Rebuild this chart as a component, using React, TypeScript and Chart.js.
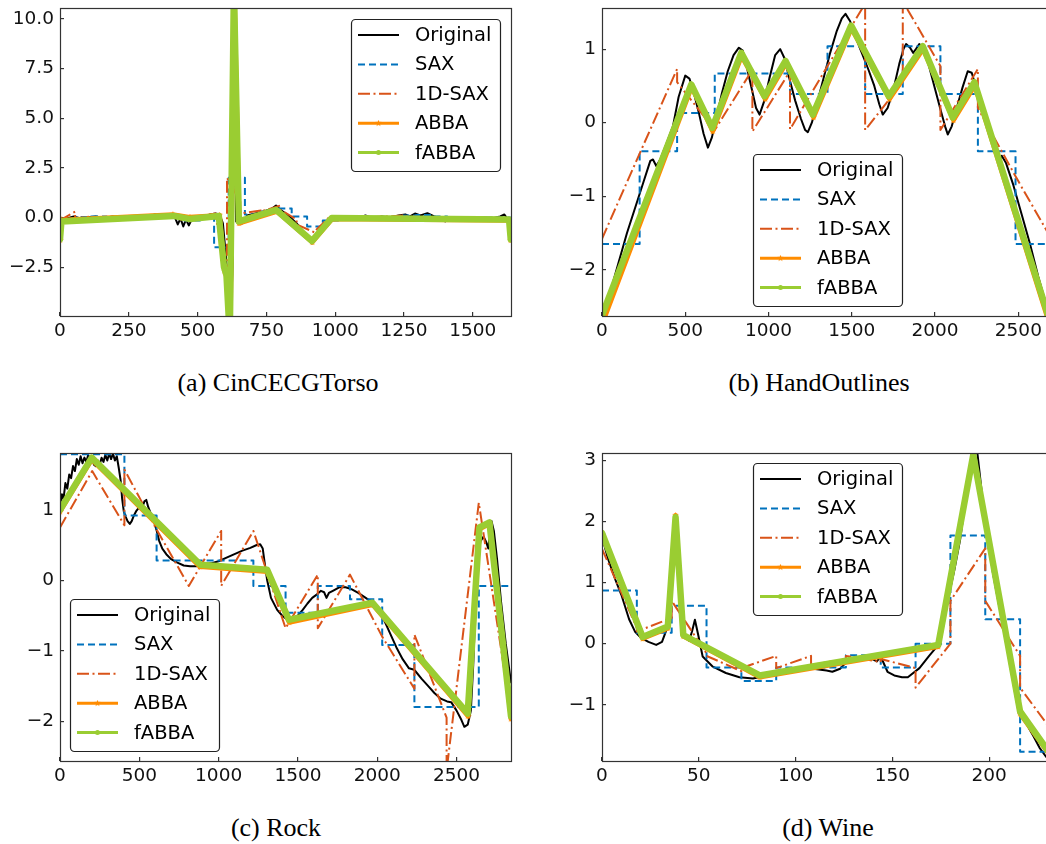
import React, { useEffect, useRef } from "react";
import { Chart, registerables } from "chart.js";

Chart.register(...registerables);

type Pt = [number, number];

// ---------- (a) CinCECGTorso ----------
const torsoXTicks = [0, 250, 500, 750, 1000, 1250, 1500];
const torsoYTicks = [-2.5, 0, 2.5, 5, 7.5, 10];
const torsoYLabels = ["\u22122.5", "0.0", "2.5", "5.0", "7.5", "10.0"];

const torsoOriginal: Pt[] = [
  [0, -0.15], [25, -0.05], [50, 0.05], [75, -0.05], [100, 0.0], [130, 0.05], [160, -0.02], [190, 0.05],
  [220, 0.0], [250, 0.08], [280, 0.02], [300, 0.12], [320, 0.05], [345, 0.15], [370, 0.1], [395, 0.18],
  [415, 0.1], [428, -0.35], [438, -0.05], [448, -0.45], [458, -0.1], [468, -0.4], [480, -0.05], [500, 0.0],
  [525, 0.05], [545, 0.15], [565, 0.2], [580, 0.15], [592, -0.3], [602, -1.8], [612, -3.6], [622, -4.6],
  [628, -2.0], [634, 11.0], [640, -0.2], [652, -0.25], [662, -0.3], [680, 0.1], [710, 0.2], [740, 0.3],
  [770, 0.45], [785, 0.6], [800, 0.4], [830, 0.1], [860, -0.3], [890, -0.8], [915, -1.3], [935, -1.0],
  [955, -0.6], [975, -0.2], [995, 0.0], [1030, -0.05], [1060, 0.05], [1090, 0.0], [1110, 0.1], [1140, -0.05],
  [1170, 0.05], [1200, 0.0], [1230, 0.1], [1255, 0.15], [1270, 0.05], [1290, 0.2], [1310, 0.1], [1335, 0.22],
  [1360, 0.05], [1385, -0.05], [1400, -0.2], [1420, -0.05], [1450, -0.15], [1480, 0.0], [1510, -0.05],
  [1540, 0.0], [1570, -0.05], [1600, 0.05], [1615, 0.15], [1625, -0.05], [1638, -0.1],
];
const torsoSax: Pt[] = [
  [0, -0.05], [57, 0.02], [113, 0.05], [170, 0.03], [226, 0.06], [283, 0.08], [339, 0.1], [396, 0.08],
  [452, -0.15], [509, 0.05], [560, -1.5], [613, 2.0], [672, 0.15], [729, 0.3], [785, 0.45],
  [842, 0.05], [898, -0.45], [955, -0.15], [1011, 0.0], [1068, 0.0], [1124, 0.03], [1181, 0.0], [1237, 0.1],
  [1294, 0.12], [1350, 0.05], [1407, -0.05], [1463, -0.05], [1520, 0.0], [1576, 0.0], [1638, 0.0],
];
const torsoOneDSax: Pt[] = [
  [0, -0.15], [55, 0.3], [55, -0.05], [110, 0.05], [110, 0.0], [220, 0.05], [220, 0.02], [330, 0.12],
  [330, 0.1], [440, 0.12], [440, -0.15], [500, 0.0], [500, 0.05], [565, 0.2], [565, 0.1], [607, -2.8],
  [607, 2.0], [655, 0.8], [655, 0.2], [730, 0.35], [730, 0.3], [800, 0.6], [800, 0.4], [860, -0.1],
  [860, -0.35], [925, -0.75], [925, -0.7], [985, 0.1], [985, 0.0], [1100, 0.05], [1100, 0.0], [1250, 0.1],
  [1250, 0.05], [1400, 0.0], [1400, -0.05], [1638, -0.05],
];
const torsoAbba: Pt[] = [
  [0, -1.15], [6, -0.12], [410, 0.15], [472, 0.02], [580, 0.12], [598, -2.7], [607, -3.1], [619, -6.0],
  [634, 11.5], [651, -0.3], [788, 0.3], [917, -1.25], [990, -0.07], [1633, -0.15], [1638, -1.15],
];
const torsoFabba: Pt[] = [
  [0, -1.1], [5, -0.2], [413, 0.08], [473, -0.08], [577, 0.08], [596, -2.5], [605, -2.9], [617, -6.0],
  [632, 11.5], [650, -0.2], [786, 0.38], [916, -1.18], [988, -0.02], [1632, -0.1], [1638, -1.1],
];

// ---------- (b) HandOutlines ----------
const handXTicks = [0, 500, 1000, 1500, 2000, 2500];
const handYTicks = [-2, -1, 0, 1];
const handYLabels = ["\u22122", "\u22121", "0", "1"];

const handOriginal: Pt[] = [
  [0, -2.62], [50, -2.3], [100, -1.9], [150, -1.5], [200, -1.15], [250, -0.8], [290, -0.52], [306, -0.5],
  [326, -0.59], [350, -0.5], [385, -0.3], [426, -0.05], [460, 0.35], [500, 0.64], [525, 0.6], [550, 0.42],
  [580, 0.15], [610, -0.15], [636, -0.34], [660, -0.2], [690, 0.1], [720, 0.4], [755, 0.7], [790, 0.92],
  [822, 1.02], [845, 0.98], [870, 0.75], [900, 0.45], [925, 0.2], [946, 0.11], [975, 0.3], [1005, 0.6],
  [1040, 0.92], [1070, 1.0], [1095, 0.88], [1125, 0.6], [1160, 0.3], [1195, 0.05], [1220, -0.1], [1236, -0.13],
  [1260, 0.0], [1290, 0.25], [1330, 0.6], [1370, 0.95], [1410, 1.25], [1440, 1.42], [1462, 1.48], [1490, 1.38],
  [1525, 1.15], [1560, 0.95], [1600, 0.72], [1635, 0.5], [1665, 0.25], [1686, 0.11], [1715, 0.2], [1750, 0.45],
  [1785, 0.8], [1810, 1.0], [1826, 1.07], [1850, 1.02], [1868, 0.95], [1885, 1.0], [1905, 1.07], [1930, 1.02],
  [1960, 0.8], [1995, 0.5], [2030, 0.2], [2060, -0.05], [2076, -0.16], [2100, -0.05], [2130, 0.2], [2165, 0.48],
  [2196, 0.7], [2220, 0.68], [2250, 0.45], [2290, 0.1], [2330, -0.2], [2366, -0.43], [2385, -0.52], [2400, -0.45],
  [2426, -0.55], [2470, -0.85], [2520, -1.25], [2570, -1.65], [2620, -2.1], [2670, -2.5], [2708, -2.8],
];
const handSax: Pt[] = [
  [0, -1.65], [226, -0.39], [451, 0.13], [677, 0.67], [1129, 0.39], [1354, 1.04], [1580, 0.39],
  [1806, 1.04], [2032, 0.39], [2257, -0.39], [2483, -1.65], [2708, -1.65],
];
const handOneDSax: Pt[] = [
  [0, -1.58], [226, -0.42], [451, 0.73], [451, 0.55], [677, -0.1], [903, 0.72], [903, -0.12], [1129, 0.7],
  [1129, -0.09], [1354, 0.77], [1580, 1.62], [1580, -0.1], [1806, 0.55], [1806, 1.65], [2032, 0.77],
  [2032, -0.1], [2257, 0.73], [2257, 0.2], [2483, -0.73], [2708, -1.62],
];
const handAbba: Pt[] = [
  [0, -2.75], [538, 0.48], [665, -0.12], [838, 0.9], [980, 0.32], [1104, 0.8], [1270, 0.07], [1498, 1.28],
  [1726, 0.32], [1928, 1.0], [2110, 0.03], [2238, 0.5], [2708, -2.9],
];
const handFabba: Pt[] = [
  [0, -2.62], [536, 0.52], [662, -0.07], [836, 0.95], [976, 0.36], [1102, 0.84], [1266, 0.11], [1496, 1.32],
  [1722, 0.36], [1926, 1.04], [2106, 0.07], [2236, 0.55], [2708, -2.83],
];

// ---------- (c) Rock ----------
const rockXTicks = [0, 500, 1000, 1500, 2000, 2500];
const rockYTicks = [-2, -1, 0, 1];
const rockYLabels = ["\u22122", "\u22121", "0", "1"];

const rockOriginal: Pt[] = [
  [0, 1.05], [12, 1.22], [22, 1.15], [34, 1.38], [46, 1.3], [58, 1.5], [70, 1.45], [82, 1.62], [94, 1.55],
  [106, 1.72], [118, 1.64], [130, 1.76], [142, 1.66], [154, 1.74], [166, 1.68], [178, 1.78], [190, 1.7],
  [202, 1.76], [214, 1.64], [226, 1.62], [238, 1.7], [250, 1.64], [262, 1.74], [274, 1.68], [286, 1.78],
  [298, 1.7], [310, 1.8], [322, 1.72], [334, 1.8], [346, 1.7], [358, 1.76], [370, 1.6], [382, 1.42],
  [392, 1.15], [402, 0.98], [414, 0.9], [426, 0.84], [440, 0.8], [452, 0.84], [466, 0.92], [480, 0.98],
  [494, 1.02], [508, 1.08], [520, 1.04], [532, 1.12], [544, 1.14], [556, 1.04], [570, 0.96], [590, 0.85],
  [610, 0.7], [625, 0.56], [645, 0.45], [670, 0.37], [700, 0.3], [740, 0.25], [780, 0.21], [820, 0.2],
  [860, 0.2], [900, 0.22], [950, 0.24], [1000, 0.27], [1050, 0.32], [1100, 0.37], [1150, 0.42], [1200, 0.46],
  [1240, 0.5], [1262, 0.51], [1278, 0.45], [1290, 0.25], [1306, 0.0], [1330, -0.25], [1369, -0.42],
  [1400, -0.5], [1433, -0.56], [1470, -0.54], [1500, -0.5], [1530, -0.42], [1560, -0.33], [1590, -0.25],
  [1620, -0.2], [1645, -0.15], [1665, -0.17], [1680, -0.25], [1695, -0.18], [1720, -0.15], [1760, -0.1],
  [1800, -0.1], [1840, -0.13], [1880, -0.18], [1920, -0.24], [1960, -0.3], [2000, -0.4], [2040, -0.55],
  [2080, -0.75], [2120, -0.95], [2160, -1.12], [2200, -1.25], [2233, -1.27], [2280, -1.4], [2320, -1.5],
  [2360, -1.6], [2400, -1.68], [2440, -1.72], [2466, -1.73], [2500, -1.85], [2530, -1.98], [2549, -2.08],
  [2570, -2.05], [2590, -1.85], [2605, -1.2], [2620, -0.3], [2635, 0.3], [2650, 0.55], [2670, 0.62],
  [2685, 0.55], [2700, 0.45], [2710, 0.7], [2720, 0.84], [2735, 0.7], [2755, 0.3], [2780, -0.3],
  [2810, -0.9], [2843, -1.45],
];
const rockSax: Pt[] = [
  [0, 1.79], [406, 0.92], [609, 0.28], [1219, -0.08], [1422, -0.46], [1625, -0.08], [1828, -0.27],
  [2031, -0.92], [2234, -1.8], [2640, -0.08], [2843, -0.08],
];
const rockOneDSax: Pt[] = [
  [0, 0.75], [203, 1.55], [406, 0.78], [406, 1.57], [609, 0.72], [812, -0.08], [1016, 0.7], [1016, -0.08],
  [1219, 0.7], [1422, -0.68], [1625, 0.08], [1625, -0.68], [1828, 0.08], [2031, -0.8], [2234, -1.54],
  [2234, -0.77], [2437, -1.95], [2437, -2.7], [2640, 1.1], [2843, -1.9],
];
const rockAbba: Pt[] = [
  [0, 0.97], [200, 1.71], [882, 0.19], [1305, 0.12], [1445, -0.6], [1972, -0.35], [2572, -1.93],
  [2642, 0.72], [2709, 0.8], [2843, -1.97],
];
const rockFabba: Pt[] = [
  [0, 1.0], [200, 1.74], [885, 0.22], [1306, 0.15], [1443, -0.56], [1970, -0.32], [2570, -1.89],
  [2644, 0.75], [2707, 0.82], [2843, -1.93],
];

// ---------- (d) Wine ----------
const wineXTicks = [0, 50, 100, 150, 200];
const wineYTicks = [-1, 0, 1, 2, 3];
const wineYLabels = ["\u22121", "0", "1", "2", "3"];

const wineOriginal: Pt[] = [
  [0, 1.75], [3, 1.4], [7, 1.04], [10, 0.8], [14, 0.4], [17, 0.2], [20, 0.1], [24, 0.03], [28, -0.02],
  [31, 0.03], [33, 0.2], [35, 0.7], [36.5, 1.5], [38, 2.05], [39.5, 1.5], [41, 0.6], [43, 0.1], [45, 0.05],
  [46.5, 0.2], [48, 0.39], [50, 0.1], [52, -0.21], [57, -0.37], [64, -0.48], [71, -0.55], [78, -0.57],
  [85, -0.52], [92, -0.44], [100, -0.41], [109, -0.41], [116, -0.44], [119, -0.46], [123, -0.41],
  [128, -0.24], [137, -0.21], [142, -0.29], [144, -0.21], [147.5, -0.46], [151, -0.52], [155, -0.55],
  [158, -0.55], [164, -0.4], [169, -0.2], [173, -0.05], [178, 0.61], [182, 1.2], [185, 1.7], [188, 2.4],
  [190, 2.9], [192, 3.2], [194, 3.1], [197, 2.25], [200, 1.6], [202, 1.15], [205, 0.65], [209, 0.06],
  [213, -0.55], [216, -1.03], [220, -1.35], [223, -1.52], [226, -1.7], [229.4, -1.85], [233, -1.9],
];
const wineSax: Pt[] = [
  [0, 0.87], [18, 0.18], [36, 0.62], [54, -0.39], [72, -0.61], [90, -0.39], [108, -0.39], [126, -0.19],
  [144, -0.39], [162, 0.0], [180, 1.77], [198, 0.4], [216, -1.77], [233, -1.77],
];
const wineOneDSax: Pt[] = [
  [0, 1.55], [18, 0.26], [18, 0.2], [36, 0.42], [36, 0.7], [54, -0.16], [54, -0.2], [72, -0.45],
  [72, -0.4], [90, -0.2], [90, -0.4], [108, -0.2], [108, -0.35], [126, -0.25], [126, -0.2], [144, -0.3],
  [144, -0.25], [162, -0.4], [162, -0.72], [180, 0.0], [180, 0.7], [198, 1.56], [198, 0.7], [216, -0.2],
  [216, -0.72], [233, -1.45],
];
const wineAbba: Pt[] = [
  [0, 1.78], [21, 0.08], [34, 0.25], [38, 2.1], [42, 0.12], [81.5, -0.55], [173.7, -0.05], [191.8, 3.1],
  [216, -1.15], [233, -1.9],
];
const wineFabba: Pt[] = [
  [0, 1.81], [21, 0.11], [34, 0.28], [38, 2.07], [42, 0.14], [81.5, -0.52], [173.7, -0.02], [191.8, 3.09],
  [216, -1.11], [233, -1.87],
];

// ---------- styles ----------
type Key = "original" | "sax" | "oneD" | "abba" | "fabba";
const SERIES_KEYS: Key[] = ["original", "sax", "oneD", "abba", "fabba"];

interface SeriesStyle {
  label: string;
  color: string;
  width: number;
  legendWidth: number;
  dash: number[];
  stepped?: boolean;
  marker?: "star" | "dot";
  order: number;
}

const STYLES: Record<Key, SeriesStyle> = {
  original: { label: "Original", color: "#000000", width: 2, legendWidth: 2, dash: [], order: 5 },
  sax: { label: "SAX", color: "#0072BD", width: 2, legendWidth: 2, dash: [7, 4], stepped: true, order: 4 },
  oneD: { label: "1D-SAX", color: "#D95319", width: 2, legendWidth: 2, dash: [12, 3.5, 2, 3.5], order: 3 },
  abba: { label: "ABBA", color: "#FF8C00", width: 4.5, legendWidth: 3, dash: [], marker: "star", order: 2 },
  fabba: { label: "fABBA", color: "#9ACD32", width: 6.5, legendWidth: 3, dash: [], marker: "dot", order: 1 },
};

const FONT = "'DejaVu Sans', 'Noto Sans', sans-serif";
const FRAME = "#333333";
const CW = 520;
const CH = 345;

interface PanelSpec {
  id: string;
  series: Record<Key, Pt[]>;
  xMax: number;
  yMin: number;
  yMax: number;
  xTicks: number[];
  yTicks: number[];
  yLabels: string[];
  left: number;
  top: number;
  legendX: number;
  legendY: number;
  caption: string;
  captionX: number;
  captionY: number;
}

const PANELS: PanelSpec[] = [
  {
    id: "a",
    series: { original: torsoOriginal, sax: torsoSax, oneD: torsoOneDSax, abba: torsoAbba, fabba: torsoFabba },
    xMax: 1639, yMin: -4.96, yMax: 10.55,
    xTicks: torsoXTicks, yTicks: torsoYTicks, yLabels: torsoYLabels,
    left: 0, top: 0, legendX: 351, legendY: 19,
    caption: "(a) CinCECGTorso", captionX: 278, captionY: 392,
  },
  {
    id: "b",
    series: { original: handOriginal, sax: handSax, oneD: handOneDSax, abba: handAbba, fabba: handFabba },
    xMax: 2708, yMin: -2.63, yMax: 1.56,
    xTicks: handXTicks, yTicks: handYTicks, yLabels: handYLabels,
    left: 542, top: 0, legendX: 211, legendY: 154,
    caption: "(b) HandOutlines", captionX: 819, captionY: 392,
  },
  {
    id: "c",
    series: { original: rockOriginal, sax: rockSax, oneD: rockOneDSax, abba: rockAbba, fabba: rockFabba },
    xMax: 2843, yMin: -2.565, yMax: 1.806,
    xTicks: rockXTicks, yTicks: rockYTicks, yLabels: rockYLabels,
    left: 0, top: 445, legendX: 70, legendY: 154,
    caption: "(c) Rock", captionX: 276, captionY: 837,
  },
  {
    id: "d",
    series: { original: wineOriginal, sax: wineSax, oneD: wineOneDSax, abba: wineAbba, fabba: wineFabba },
    xMax: 233, yMin: -1.92, yMax: 3.12,
    xTicks: wineXTicks, yTicks: wineYTicks, yLabels: wineYLabels,
    left: 542, top: 445, legendX: 211, legendY: 18,
    caption: "(d) Wine", captionX: 828, captionY: 837,
  },
];

// five-pointed star used as the ABBA marker
function makeStar(size: number, color: string): HTMLCanvasElement {
  const c = document.createElement("canvas");
  c.width = size;
  c.height = size;
  const g = c.getContext("2d")!;
  const cx = size / 2;
  const cy = size / 2;
  const R = size / 2;
  const r = R * 0.42;
  g.beginPath();
  for (let i = 0; i < 10; i++) {
    const ang = -Math.PI / 2 + (i * Math.PI) / 5;
    const rad = i % 2 === 0 ? R : r;
    g.lineTo(cx + rad * Math.cos(ang), cy + rad * Math.sin(ang));
  }
  g.closePath();
  g.fillStyle = color;
  g.fill();
  return c;
}

function Panel({ spec }: { spec: PanelSpec }) {
  const ref = useRef<HTMLCanvasElement>(null);

  useEffect(() => {
    const canvas = ref.current;
    if (!canvas) return;
    const star = makeStar(7, STYLES.abba.color);

    const datasets = SERIES_KEYS.map((key) => {
      const st = STYLES[key];
      return {
        label: st.label,
        data: spec.series[key].map(([x, y]) => ({ x, y })),
        borderColor: st.color,
        backgroundColor: st.color,
        borderWidth: st.width,
        borderDash: st.dash,
        borderJoinStyle: "round" as const,
        borderCapStyle: st.dash.length ? ("butt" as const) : ("round" as const),
        stepped: st.stepped ? ("before" as const) : false,
        pointRadius: st.marker === "star" ? 3.5 : st.marker === "dot" ? 2.5 : 0,
        pointStyle: st.marker === "star" ? (star as any) : "circle",
        pointBorderWidth: 0,
        tension: 0,
        fill: false,
        order: st.order,
      };
    });

    const framePlugin = {
      id: "frame",
      afterDatasetsDraw(chart: any) {
        const { ctx, chartArea: a } = chart;
        ctx.save();
        ctx.strokeStyle = FRAME;
        ctx.lineWidth = 1.2;
        ctx.strokeRect(Math.round(a.left) + 0.5, Math.round(a.top) + 0.5, Math.round(a.width), Math.round(a.height));
        ctx.restore();
      },
    };

    const legendPlugin = {
      id: "boxLegend",
      afterDraw(chart: any) {
        const ctx: CanvasRenderingContext2D = chart.ctx;
        const bx = spec.legendX + 0.5;
        const by = spec.legendY + 0.5;
        ctx.save();
        ctx.beginPath();
        ctx.roundRect(bx, by, 149, 152, 4);
        ctx.fillStyle = "#ffffff";
        ctx.fill();
        ctx.strokeStyle = "#222222";
        ctx.lineWidth = 1.2;
        ctx.stroke();
        SERIES_KEYS.forEach((key, i) => {
          const st = STYLES[key];
          const yy = spec.legendY + 16 + i * 29.4;
          const x0 = spec.legendX + 7;
          const x1 = x0 + 41;
          ctx.beginPath();
          ctx.setLineDash(st.dash);
          ctx.lineWidth = st.legendWidth;
          ctx.strokeStyle = st.color;
          ctx.lineCap = "butt";
          ctx.moveTo(x0, yy);
          ctx.lineTo(x1, yy);
          ctx.stroke();
          ctx.setLineDash([]);
          const mx = (x0 + x1) / 2;
          if (st.marker === "star") {
            ctx.drawImage(star, mx - star.width / 2, yy - star.height / 2);
          } else if (st.marker === "dot") {
            ctx.beginPath();
            ctx.arc(mx, yy, 2.5, 0, Math.PI * 2);
            ctx.fillStyle = st.color;
            ctx.fill();
          }
          ctx.fillStyle = "#000000";
          ctx.font = `19.5px ${FONT}`;
          ctx.textBaseline = "middle";
          ctx.textAlign = "left";
          ctx.fillText(st.label, spec.legendX + 64, yy + 1);
        });
        ctx.restore();
      },
    };

    const xLabel = (v: number) => String(v);
    const yLabelMap = new Map(spec.yTicks.map((v, i) => [v, spec.yLabels[i]]));

    const chart = new Chart(canvas, {
      type: "line",
      data: { datasets: datasets as any },
      options: {
        animation: false,
        responsive: false,
        events: [],
        layout: { padding: { top: 8, right: 9, left: 0, bottom: 0 } },
        plugins: { legend: { display: false }, tooltip: { enabled: false } },
        scales: {
          x: {
            type: "linear",
            min: 0,
            max: spec.xMax,
            afterBuildTicks: (s: any) => {
              s.ticks = spec.xTicks.map((v) => ({ value: v }));
            },
            afterFit: (s: any) => {
              s.height = 29;
              s.paddingLeft = 0;
              s.paddingRight = 0;
            },
            grid: { drawOnChartArea: false, drawTicks: true, tickLength: -4, tickColor: FRAME, lineWidth: 1.2 },
            border: { display: false },
            ticks: {
              autoSkip: false,
              maxRotation: 0,
              padding: 8,
              color: "#111111",
              font: { family: FONT, size: 18.5 },
              callback: (v: any) => xLabel(Number(v)),
            },
          },
          y: {
            type: "linear",
            min: spec.yMin,
            max: spec.yMax,
            afterBuildTicks: (s: any) => {
              s.ticks = spec.yTicks.map((v) => ({ value: v }));
            },
            afterFit: (s: any) => {
              s.width = 60;
              s.paddingTop = 0;
              s.paddingBottom = 0;
            },
            grid: { drawOnChartArea: false, drawTicks: true, tickLength: -4, tickColor: FRAME, lineWidth: 1.2 },
            border: { display: false },
            ticks: {
              autoSkip: false,
              padding: 10,
              color: "#111111",
              font: { family: FONT, size: 18.5 },
              callback: (v: any) => yLabelMap.get(Number(v)) ?? String(v),
            },
          },
        },
      },
      plugins: [framePlugin, legendPlugin],
    });
    return () => chart.destroy();
  }, [spec]);

  return (
    <>
      <canvas
        ref={ref}
        width={CW}
        height={CH}
        style={{ position: "absolute", left: spec.left, top: spec.top, width: CW, height: CH }}
      />
      <div
        style={{
          position: "absolute",
          left: spec.captionX - 200,
          top: spec.captionY - 24,
          width: 400,
          textAlign: "center",
          fontFamily: "'Liberation Serif', 'DejaVu Serif', serif",
          fontSize: 26,
          lineHeight: "30px",
          color: "#000",
          whiteSpace: "nowrap",
        }}
      >
        {spec.caption}
      </div>
    </>
  );
}

export default function App() {
  return (
    <div
      style={{
        position: "absolute",
        left: 0,
        top: 0,
        width: 1046,
        height: 844,
        overflow: "hidden",
        background: "#ffffff",
      }}
    >
      {PANELS.map((p) => (
        <Panel key={p.id} spec={p} />
      ))}
    </div>
  );
}
